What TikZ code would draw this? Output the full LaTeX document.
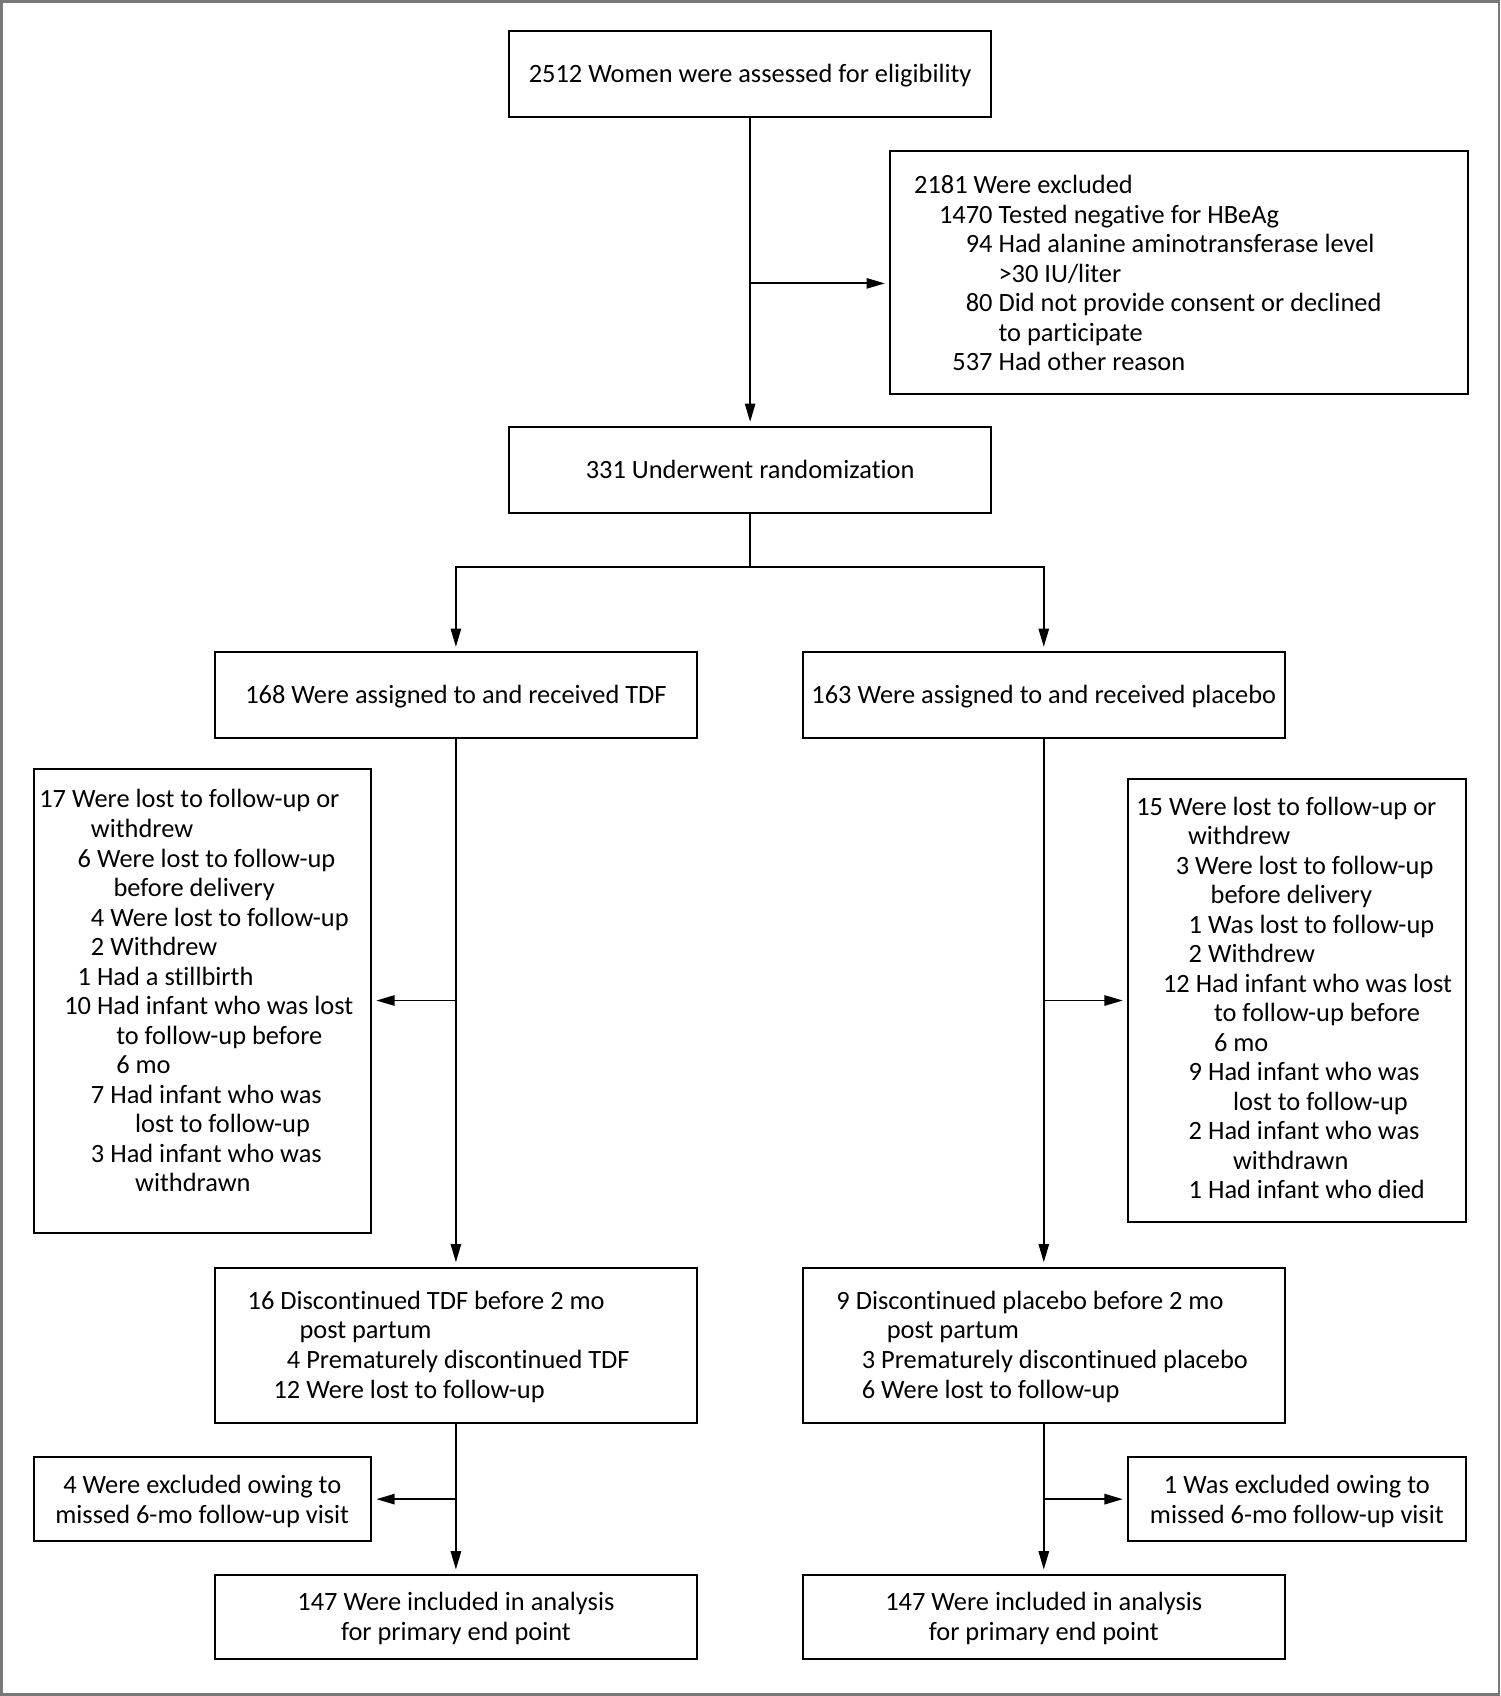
\documentclass[tikz,border=0pt]{standalone}
\usepackage{fontspec}
\setmainfont{Carlito}[Ligatures={NoCommon,NoRequired,NoContextual}]
\usetikzlibrary{arrows.meta}
\definecolor{framegray}{RGB}{120,120,120}
\newcommand\Ln[3]{\hspace*{#1pt}\llap{#2\ }#3}
\begin{document}
\begin{tikzpicture}[x=1pt,y=-1pt,
  box/.style={draw, line width=1.8pt, rectangle, inner sep=0pt},
  txt/.style={inner sep=0pt, font=\fontsize{24.4}{27.3}\selectfont},
  arr/.style={line width=1.8pt, -{Triangle[length=17pt,width=9.5pt]}, shorten >=4pt},
  ln/.style={line width=1.8pt}]
\useasboundingbox (0,0) rectangle (1387,1568);
\draw[line width=2.5pt, color=framegray] (1.25,1.25) rectangle (1385.75,1566.75);

% boxes
\node[box, minimum width=445pt, minimum height=79pt] (A) at (693.5,68.5) {};
\node[box, minimum width=534pt, minimum height=224pt] (excl) at (1090,252) {};
\node[box, minimum width=445pt, minimum height=79pt] (B) at (693.5,434.5) {};
\node[box, minimum width=445pt, minimum height=79pt] (C) at (421.5,642.5) {};
\node[box, minimum width=446pt, minimum height=79pt] (D) at (965,642.5) {};
\node[box, minimum width=312pt, minimum height=429pt] (L1) at (187,925.5) {};
\node[box, minimum width=312pt, minimum height=410pt] (R1) at (1199,925) {};
\node[box, minimum width=445pt, minimum height=144pt] (E) at (421.5,1244) {};
\node[box, minimum width=446pt, minimum height=144pt] (F) at (965,1244) {};
\node[box, minimum width=312pt, minimum height=78pt] (L2) at (187,1386) {};
\node[box, minimum width=312pt, minimum height=78pt] (R2) at (1199,1386) {};
\node[box, minimum width=445pt, minimum height=78pt] (G) at (421.5,1495) {};
\node[box, minimum width=446pt, minimum height=78pt] (H) at (965,1495) {};

% texts
\node[txt, anchor=base] (tA) at (693.5,76) {2512 Women were assessed for eligibility};
\node[txt, anchor=base west] (tExcl) at (823,179) {\begin{tabular}[t]{@{}l@{}}
\hspace*{22pt}2181 Were excluded\\
\Ln{100}{1470}{Tested negative for HBeAg}\\
\Ln{100}{94}{Had alanine aminotransferase level}\\
\Ln{100}{}{>30 IU/liter}\\
\Ln{100}{80}{Did not provide consent or declined}\\
\Ln{100}{}{to participate}\\
\Ln{100}{537}{Had other reason}
\end{tabular}};
\node[txt, anchor=base] (tB) at (693.5,442) {331 Underwent randomization};
\node[txt, anchor=base] (tC) at (421.5,650) {168 Were assigned to and received TDF};
\node[txt, anchor=base] (tD) at (965,650) {163 Were assigned to and received placebo};
\node[txt, anchor=base west] (tL1) at (31,747) {\begin{tabular}[t]{@{}l@{}}
\Ln{35.4}{17}{Were lost to follow-up or}\\
\Ln{52.9}{}{withdrew}\\
\Ln{58.5}{6}{Were lost to follow-up}\\
\Ln{73.8}{}{before delivery}\\
\Ln{70.8}{4}{Were lost to follow-up}\\
\Ln{70.8}{2}{Withdrew}\\
\Ln{58.5}{1}{Had a stillbirth}\\
\Ln{58.5}{10}{Had infant who was lost}\\
\Ln{76.3}{}{to follow-up before}\\
\Ln{76.3}{}{6 mo}\\
\Ln{70.8}{7}{Had infant who was}\\
\Ln{93.8}{}{lost to follow-up}\\
\Ln{70.8}{3}{Had infant who was}\\
\Ln{93.8}{}{withdrawn}
\end{tabular}};
\node[txt, anchor=base west] (tR1) at (1043,753.6) {\begin{tabular}[t]{@{}l@{}}
\Ln{37.6}{15}{Were lost to follow-up or}\\
\Ln{55.2}{}{withdrew}\\
\Ln{61.7}{3}{Were lost to follow-up}\\
\Ln{76.1}{}{before delivery}\\
\Ln{73.7}{1}{Was lost to follow-up}\\
\Ln{73.7}{2}{Withdrew}\\
\Ln{62.3}{12}{Had infant who was lost}\\
\Ln{79.2}{}{to follow-up before}\\
\Ln{79.2}{}{6 mo}\\
\Ln{73.7}{9}{Had infant who was}\\
\Ln{96.8}{}{lost to follow-up}\\
\Ln{73.7}{2}{Had infant who was}\\
\Ln{96.8}{}{withdrawn}\\
\Ln{73.7}{1}{Had infant who died}
\end{tabular}};
\node[txt, anchor=base west] (tE) at (199,1210.6) {\begin{tabular}[t]{@{}l@{}}
\Ln{60}{16}{Discontinued TDF before 2 mo}\\
\Ln{77.7}{}{post partum}\\
\Ln{84}{4}{Prematurely discontinued TDF}\\
\Ln{84}{12}{Were lost to follow-up}
\end{tabular}};
\node[txt, anchor=base west] (tF) at (742,1210.6) {\begin{tabular}[t]{@{}l@{}}
\Ln{49}{9}{Discontinued placebo before 2 mo}\\
\Ln{77.7}{}{post partum}\\
\Ln{72.4}{3}{Prematurely discontinued placebo}\\
\Ln{72.4}{6}{Were lost to follow-up}
\end{tabular}};
\node[txt, anchor=base] (tL2) at (187,1381) {\begin{tabular}[t]{@{}c@{}}
4 Were excluded owing to\\ missed 6-mo follow-up visit\end{tabular}};
\node[txt, anchor=base] (tR2) at (1199,1381) {\begin{tabular}[t]{@{}c@{}}
1 Was excluded owing to\\ missed 6-mo follow-up visit\end{tabular}};
\node[txt, anchor=base] (tG) at (421.5,1489) {\begin{tabular}[t]{@{}c@{}}
147 Were included in analysis\\ for primary end point\end{tabular}};
\node[txt, anchor=base] (tH) at (965,1489) {\begin{tabular}[t]{@{}c@{}}
147 Were included in analysis\\ for primary end point\end{tabular}};

% connectors
\coordinate (brA) at (693.5,262);
\coordinate (jB) at (693.5,524);
\coordinate (brC) at (421.5,925);
\coordinate (brD) at (965,925);
\coordinate (brE) at (421.5,1386);
\coordinate (brF) at (965,1386);
\draw[arr] (A.south) -- (B.north);
\draw[arr] (brA) -- (brA -| excl.west);
\draw[ln] (B.south) -- (jB);
\draw[arr] (jB) -| (C.north);
\draw[arr] (jB) -| (D.north);
\draw[arr] (C.south) -- (E.north);
\draw[arr] (D.south) -- (F.north);
\draw[arr] (brC) -- (brC -| L1.east);
\draw[arr] (brD) -- (brD -| R1.west);
\draw[arr] (E.south) -- (G.north);
\draw[arr] (F.south) -- (H.north);
\draw[arr] (brE) -- (brE -| L2.east);
\draw[arr] (brF) -- (brF -| R2.west);
\end{tikzpicture}
\end{document}
